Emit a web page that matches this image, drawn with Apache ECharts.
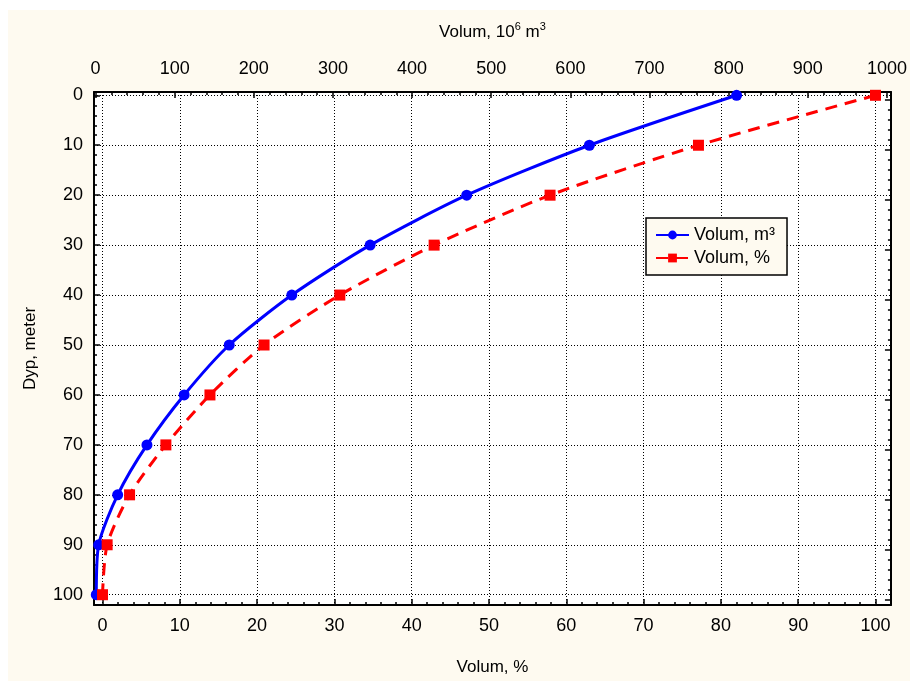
<!DOCTYPE html>
<html>
<head>
<meta charset="utf-8">
<script src="https://cdn.jsdelivr.net/npm/echarts@6/dist/echarts.min.js"></script>
<style>
  html, body { margin: 0; padding: 0; background: #ffffff; }
  #chart { width: 910px; height: 681px; }
</style>
</head>
<body>
<div id="chart"></div>
<script>
// depth (meter), shared by both series
var depth = [0, 10, 20, 30, 40, 50, 60, 70, 80, 90, 100];
// volume, 10^6 m3 (top axis)
var volumeM3 = [810, 624, 469, 347, 248, 169, 112, 65, 28, 4, 1];
// volume, % (bottom axis)
var volumePct = [100, 77.1, 57.9, 42.9, 30.7, 20.9, 13.9, 8.2, 3.5, 0.6, 0];

// tick labels
var pctTicks = [0, 10, 20, 30, 40, 50, 60, 70, 80, 90, 100];
var volTicks = [0, 100, 200, 300, 400, 500, 600, 700, 800, 900, 1000];
var depthTicks = [0, 10, 20, 30, 40, 50, 60, 70, 80, 90, 100];

function minorOf(major, step) {
  var out = [];
  for (var i = 0; i < major.length - 1; i++) {
    for (var v = major[i] + step; v < major[i + 1] - 1e-9; v += step) {
      out.push(Math.round(v * 100) / 100);
    }
  }
  return out;
}

var FONT = 'Liberation Sans, Arial, sans-serif';
var CREAM = '#fefaf0';

var chart = echarts.init(document.getElementById('chart'));

function plain(v) { return String(v); }

function majorAxis(extra) {
  var base = {
    type: 'value',
    axisLine: { show: true, onZero: false, lineStyle: { color: '#000', width: 2 } },
    axisTick: { show: true, inside: true, length: 6, lineStyle: { color: '#000', width: 1.5 } },
    axisLabel: { show: true, color: '#000', fontSize: 18, fontFamily: FONT },
    splitLine: { show: false }
  };
  return Object.assign(base, extra);
}

function minorAxis(extra) {
  var base = {
    type: 'value',
    axisLine: { show: false, onZero: false },
    axisTick: { show: true, inside: true, length: 3, lineStyle: { color: '#000', width: 1.5 } },
    axisLabel: { show: false },
    splitLine: { show: false }
  };
  return Object.assign(base, extra);
}

var gridLine = { show: true, lineStyle: { color: '#000', width: 1, type: [1, 2] } };

var option = {
  backgroundColor: '#ffffff',
  animation: false,
  graphic: [{
    type: 'rect',
    z: -10,
    silent: true,
    shape: { x: 8, y: 10, width: 902, height: 671 },
    style: { fill: CREAM }
  }],
  grid: {
    left: 94, right: 18, top: 92, bottom: 75,
    show: true, backgroundColor: '#ffffff', borderWidth: 0
  },
  legend: {
    orient: 'vertical',
    left: 646, top: 218,
    padding: [8, 12, 8, 9],
    itemGap: 5,
    itemWidth: 33, itemHeight: 11,
    backgroundColor: CREAM,
    borderColor: '#000', borderWidth: 1.5,
    textStyle: { color: '#000', fontSize: 18, fontFamily: FONT },
    data: ['Volum, m³', 'Volum, %']
  },
  xAxis: [
    majorAxis({
      position: 'bottom', min: -1.1, max: 102,
      axisTick: { show: true, inside: true, length: 6, customValues: pctTicks, lineStyle: { color: '#000', width: 1.5 } },
      axisLabel: { show: true, color: '#000', fontSize: 18, fontFamily: FONT, margin: 12, customValues: pctTicks, formatter: plain },
      splitLine: gridLine,
      name: 'Volum, %', nameLocation: 'middle', nameGap: 54,
      nameTextStyle: { color: '#000', fontSize: 17, fontFamily: FONT }
    }),
    minorAxis({
      position: 'bottom', min: -1.1, max: 102,
      axisTick: { show: true, inside: true, length: 3, customValues: minorOf(pctTicks, 2), lineStyle: { color: '#000', width: 1.5 } }
    }),
    majorAxis({
      position: 'top', min: -1.9, max: 1005,
      axisTick: { show: true, inside: true, length: 6, customValues: volTicks, lineStyle: { color: '#000', width: 1.5 } },
      axisLabel: { show: true, color: '#000', fontSize: 18, fontFamily: FONT, margin: 14, customValues: volTicks, formatter: plain },
      name: 'Volum, 10{s|6} m{s|3}', nameLocation: 'middle', nameGap: 49,
      nameTextStyle: {
        color: '#000', fontSize: 17, fontFamily: FONT, lineHeight: 22,
        rich: {
          s: { fontSize: 11, fontFamily: FONT, color: '#000', verticalAlign: 'top', lineHeight: 12 }
        }
      }
    }),
    minorAxis({
      position: 'top', min: -1.9, max: 1005,
      axisTick: { show: true, inside: true, length: 3, customValues: minorOf(volTicks, 20), lineStyle: { color: '#000', width: 1.5 } }
    })
  ],
  yAxis: [
    majorAxis({
      position: 'left', inverse: true, min: -0.66, max: 102.06,
      axisTick: { show: true, inside: true, length: 6, customValues: depthTicks, lineStyle: { color: '#000', width: 1.5 } },
      axisLabel: { show: true, color: '#000', fontSize: 18, fontFamily: FONT, margin: 11, customValues: depthTicks, formatter: plain },
      splitLine: gridLine,
      name: 'Dyp, meter', nameLocation: 'middle', nameGap: 55,
      nameTextStyle: { color: '#000', fontSize: 17, fontFamily: FONT }
    }),
    minorAxis({
      position: 'left', inverse: true, min: -0.66, max: 102.06,
      axisTick: { show: true, inside: true, length: 3, customValues: minorOf(depthTicks, 2), lineStyle: { color: '#000', width: 1.5 } }
    }),
    majorAxis({
      position: 'right', inverse: true, min: -1.6, max: 101.06,
      axisTick: { show: true, inside: true, length: 6, customValues: depthTicks, lineStyle: { color: '#000', width: 1.5 } },
      axisLabel: { show: false }
    }),
    minorAxis({
      position: 'right', inverse: true, min: -1.6, max: 101.06,
      axisTick: { show: true, inside: true, length: 3, customValues: minorOf(depthTicks, 2), lineStyle: { color: '#000', width: 1.5 } }
    })
  ],
  series: [
    {
      name: 'Volum, m³',
      type: 'line',
      xAxisIndex: 2,
      yAxisIndex: 0,
      data: volumeM3.map(function (v, i) { return [v, depth[i]]; }),
      smooth: 0.25,
      symbol: 'circle',
      symbolSize: 11,
      clip: false,
      color: '#0000ff',
      lineStyle: { color: '#0000ff', width: 3 },
      itemStyle: { color: '#0000ff' }
    },
    {
      name: 'Volum, %',
      type: 'line',
      xAxisIndex: 0,
      yAxisIndex: 0,
      data: volumePct.map(function (v, i) { return [v, depth[i]]; }),
      smooth: 0.25,
      symbol: 'rect',
      symbolSize: 11,
      clip: false,
      color: '#ff0000',
      lineStyle: { color: '#ff0000', width: 3, type: [12, 8] },
      itemStyle: { color: '#ff0000' }
    }
  ]
};

chart.setOption(option);
</script>
</body>
</html>
